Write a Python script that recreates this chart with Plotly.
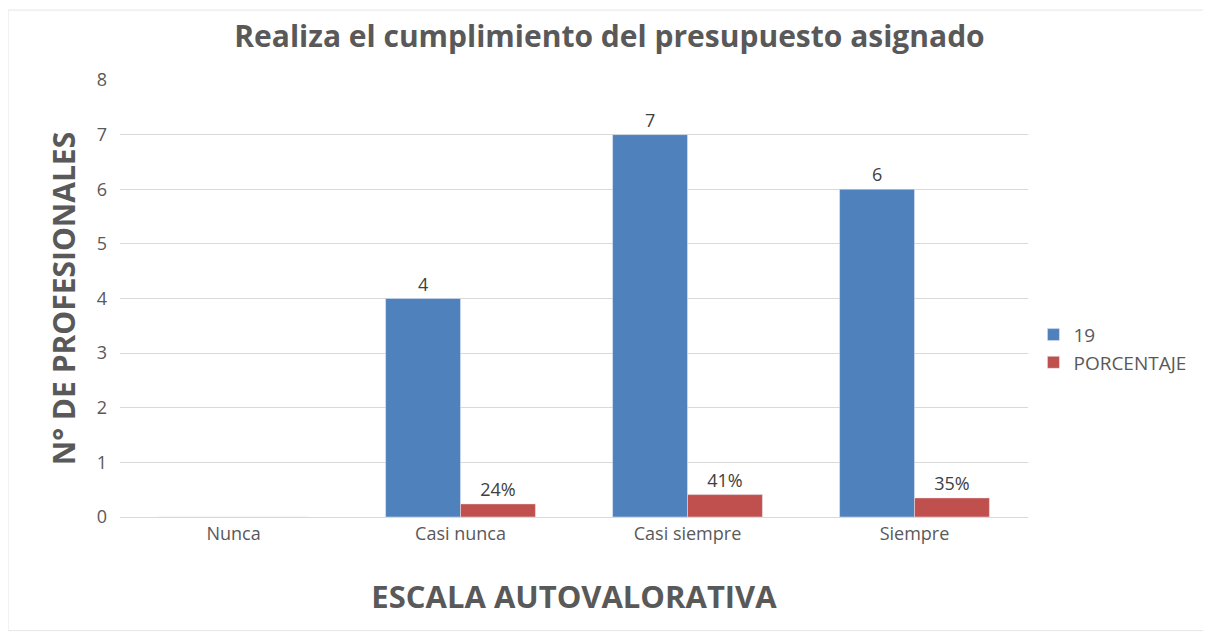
import plotly.graph_objects as go

categories = ["Nunca", "Casi nunca", "Casi siempre", "Siempre"]
serie_19 = [0, 4, 7, 6]
porcentaje = [0, 0.24, 0.41, 0.35]
labels_19 = ["", "4", "7", "6"]
labels_pct = ["", "24%", "41%", "35%"]

FONT = "Open Sans"
GREY = "#595959"

fig = go.Figure()
fig.add_trace(go.Bar(
    name="19", x=categories, y=serie_19, marker_color="#4F81BD",
    text=labels_19, textposition="outside", cliponaxis=False,
    textfont=dict(size=18, color="#404040", family=FONT),
))
fig.add_trace(go.Bar(
    name="PORCENTAJE", x=categories, y=porcentaje, marker_color="#C0504D",
    text=labels_pct, textposition="outside", cliponaxis=False,
    textfont=dict(size=18, color="#404040", family=FONT),
))

fig.update_layout(
    width=1203, height=626,
    margin=dict(l=112, r=183, t=72, b=117, autoexpand=False),
    paper_bgcolor="white", plot_bgcolor="white",
    barmode="group", bargap=0.34, bargroupgap=0,
    font=dict(family=FONT, color=GREY, size=18),
    title=dict(text="<b>Realiza el cumplimiento del presupuesto asignado</b>",
               x=0.5, xanchor="center", y=0.955, yanchor="middle",
               font=dict(size=30, color=GREY, family=FONT)),
    xaxis=dict(showgrid=False, showline=True, linecolor="#d9d9d9", ticks="",
               tickfont=dict(size=18, color=GREY),
               title=dict(text="<b>ESCALA AUTOVALORATIVA</b>", standoff=42,
                          font=dict(size=31, color=GREY))),
    yaxis=dict(range=[0, 8], dtick=1, showgrid=True, gridcolor="#d9d9d9",
               zeroline=False, ticks="", tickfont=dict(size=18, color=GREY),
               ticklabelstandoff=12,
               title=dict(text="<b>N° DE PROFESIONALES</b>", standoff=12,
                          font=dict(size=30, color=GREY))),
    legend=dict(x=1.006, y=0.385, xanchor="left", yanchor="middle",
                font=dict(size=19, color=GREY), itemwidth=30,
                tracegroupgap=4),
    shapes=[dict(type="rect", xref="paper", yref="paper",
                 x0=-0.1233, x1=1.2, y0=-0.26, y1=1.160,
                 line=dict(color="#e6e6e6", width=1), layer="below")],
)

fig.write_html("out.html")
